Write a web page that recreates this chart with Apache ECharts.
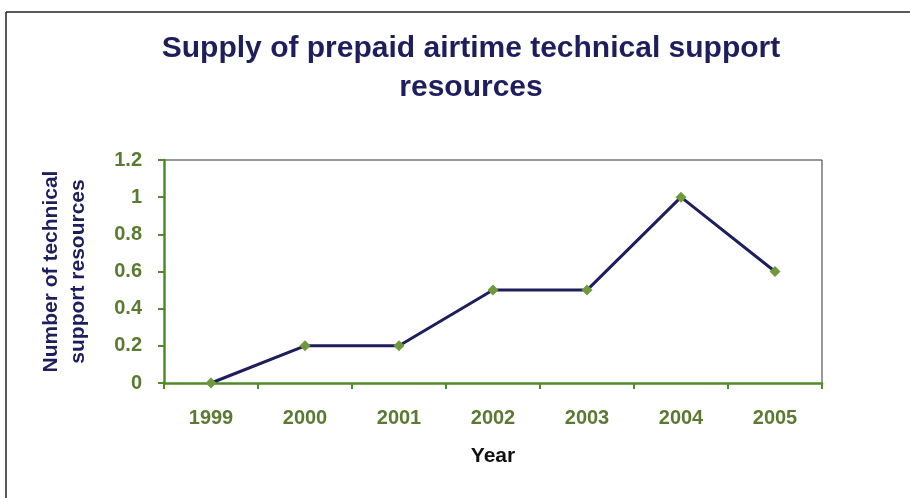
<!DOCTYPE html>
<html><head><meta charset="utf-8">
<script src="https://cdn.jsdelivr.net/npm/echarts@6/dist/echarts.min.js"></script>
<style>html,body{margin:0;padding:0;background:#fff}#c{width:910px;height:498px}</style>
</head><body><div id="c"></div>
<script>
const years = ['1999','2000','2001','2002','2003','2004','2005'];
const resources = [0, 0.2, 0.2, 0.5, 0.5, 1, 0.6];
const yTicks = [0, 0.2, 0.4, 0.6, 0.8, 1, 1.2];

const chart = echarts.init(document.getElementById('c'));
const green = '#4f8a2c';
const labelGreen = '#5a7a32';
const navy = '#1e1e5c';
const font = 'Liberation Sans, Arial';
chart.setOption({
  animation: false,
  backgroundColor: '#fff',
  title: {
    text: 'Supply of prepaid airtime technical support\nresources',
    left: 466, top: 24, textAlign: 'center',
    textStyle: { fontFamily: font, fontWeight: 'bold', fontSize: 30, color: navy, lineHeight: 39 }
  },
  graphic: [
    { type: 'line', shape: { x1: 6, y1: 12, x2: 910, y2: 12 }, style: { stroke: '#222', lineWidth: 1.5 } },
    { type: 'line', shape: { x1: 6, y1: 12, x2: 6, y2: 498 }, style: { stroke: '#222', lineWidth: 1.5 } },
    { type: 'line', shape: { x1: 164, y1: 160, x2: 822, y2: 160 }, style: { stroke: '#333', lineWidth: 1 } },
    { type: 'line', shape: { x1: 822, y1: 160, x2: 822, y2: 383 }, style: { stroke: '#333', lineWidth: 1 } }
  ],
  grid: { left: 164, right: 88, top: 160, bottom: 115 },
  xAxis: {
    type: 'category', data: years, boundaryGap: true,
    name: 'Year', nameLocation: 'middle', nameGap: 63,
    nameTextStyle: { fontFamily: font, fontWeight: 'bold', fontSize: 21, color: '#111' },
    axisLine: { lineStyle: { color: green, width: 2.5 } },
    axisTick: { show: true, length: 6, lineStyle: { color: green, width: 2 } },
    axisLabel: { margin: 25, fontFamily: font, fontWeight: 'bold', fontSize: 20, color: labelGreen },
    splitLine: { show: false }
  },
  yAxis: {
    type: 'value', min: 0, max: 1.2, interval: 0.2,
    name: 'Number of technical\nsupport resources', nameLocation: 'middle', nameGap: 72, nameRotate: 90,
    nameTextStyle: { fontFamily: font, fontWeight: 'bold', fontSize: 21, color: navy, lineHeight: 27 },
    axisLine: { show: true, lineStyle: { color: green, width: 2.5 } },
    axisTick: { show: true, length: 6, lineStyle: { color: green, width: 2 } },
    axisLabel: { margin: 22, fontFamily: font, fontWeight: 'bold', fontSize: 20, color: labelGreen,
      formatter: v => { const t = yTicks.find(x => Math.abs(x - v) < 1e-9); return t === undefined ? '' : String(t); } },
    splitLine: { show: false }
  },
  series: [{
    type: 'line', data: resources,
    lineStyle: { color: navy, width: 3 },
    symbol: 'diamond', symbolSize: 11,
    itemStyle: { color: '#6f9a3c' }
  }]
});
</script></body></html>
